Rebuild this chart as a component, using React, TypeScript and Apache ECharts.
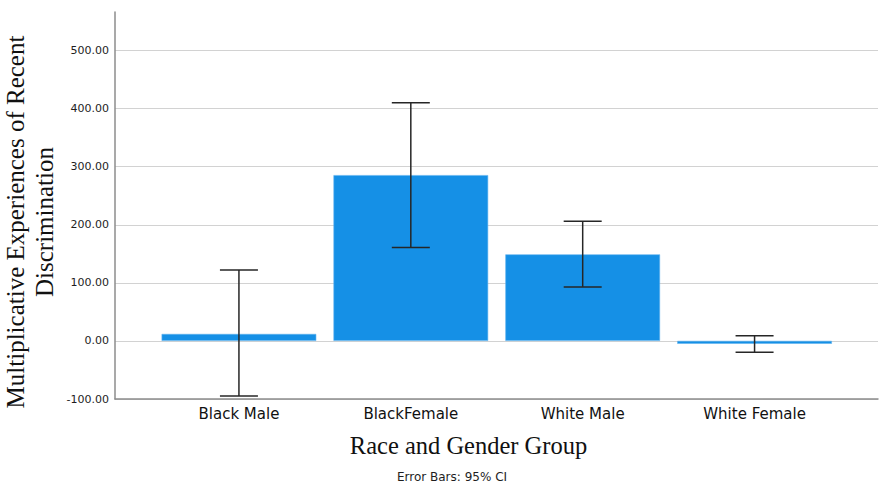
import React, { useEffect, useRef } from "react";
import * as echarts from "echarts";

const categories = ["Black Male", "BlackFemale", "White Male", "White Female"];
const means = [12, 285.5, 149, -5];
const ciLow = [-95, 161, 93, -19.5];
const ciHigh = [122, 410, 206, 9];
const yTicks = [-100, 0, 100, 200, 300, 400, 500];

const Y_MIN = -100;
const Y_MAX = 566.3;

export default function App() {
  const ref = useRef<HTMLDivElement>(null);
  useEffect(() => {
    const chart = echarts.init(ref.current!, undefined, { renderer: "svg" });
    const errData = categories.map((_, i) => [i, ciLow[i], ciHigh[i]]);
    chart.setOption({
      animation: false,
      backgroundColor: "#ffffff",
      grid: [
        { left: 115, right: 4, top: 12, bottom: 87 },
        { left: 153, right: 41.5, top: 12, bottom: 87 },
      ],
      xAxis: [
        {
          gridIndex: 0,
          type: "category",
          data: categories,
          axisLine: { show: true, onZero: false, lineStyle: { color: "#8c8c8c", width: 1.5 } },
          axisTick: { show: false },
          axisLabel: { show: false },
          splitLine: { show: false },
        },
        {
          gridIndex: 1,
          type: "category",
          data: categories,
          axisLine: { show: false, onZero: false },
          axisTick: { show: false },
          axisLabel: {
            show: true,
            margin: 7,
            fontFamily: "DejaVu Sans",
            fontSize: 15,
            color: "#111111",
          },
        },
      ],
      yAxis: [
        {
          gridIndex: 0,
          type: "value",
          min: Y_MIN,
          max: Y_MAX,
          interval: 100,
          axisLine: { show: true, lineStyle: { color: "#8c8c8c", width: 1.5 } },
          axisTick: { show: false },
          axisLabel: {
            showMaxLabel: false,
            margin: 6,
            fontFamily: "DejaVu Sans",
            fontSize: 11,
            color: "#1e1e1e",
            formatter: (v: number) => (yTicks.indexOf(v) >= 0 ? v.toFixed(2) : ""),
          },
          splitLine: {
            show: true,
            showMaxLine: false,
            lineStyle: { color: "#d2d2d2", width: 1.2 },
          },
        },
        {
          gridIndex: 1,
          type: "value",
          min: Y_MIN,
          max: Y_MAX,
          interval: 100,
          show: false,
          splitLine: { show: false },
        },
      ],
      series: [
        {
          type: "bar",
          xAxisIndex: 1,
          yAxisIndex: 1,
          data: means,
          barCategoryGap: "10%",
          itemStyle: { color: "#1590e6", borderColor: "#5fb2ef", borderWidth: 0.6 },
          z: 2,
        },
        {
          type: "custom",
          xAxisIndex: 1,
          yAxisIndex: 1,
          data: errData,
          z: 3,
          renderItem: (params: any, api: any) => {
            const i = api.value(0);
            const lo = api.coord([i, api.value(1)]);
            const hi = api.coord([i, api.value(2)]);
            const hw = 19;
            const style = { stroke: "#262626", lineWidth: 1.5 };
            return {
              type: "group",
              children: [
                { type: "line", shape: { x1: lo[0], y1: lo[1], x2: hi[0], y2: hi[1] }, style },
                { type: "line", shape: { x1: hi[0] - hw, y1: hi[1], x2: hi[0] + hw, y2: hi[1] }, style },
                { type: "line", shape: { x1: lo[0] - hw, y1: lo[1], x2: lo[0] + hw, y2: lo[1] }, style },
              ],
            };
          },
        },
      ],
      graphic: [
        {
          type: "text",
          x: 29.5,
          y: 222,
          rotation: Math.PI / 2,
          style: {
            text: "Multiplicative Experiences of Recent\nDiscrimination",
            font: "25px 'Liberation Serif'",
            fill: "#111111",
            align: "center",
            verticalAlign: "middle",
            lineHeight: 29,
          },
        },
        {
          type: "text",
          x: 468.5,
          y: 445,
          style: {
            text: "Race and Gender Group",
            font: "24.5px 'Liberation Serif'",
            fill: "#111111",
            align: "center",
            verticalAlign: "middle",
          },
        },
        {
          type: "text",
          x: 452,
          y: 477,
          style: {
            text: "Error Bars: 95% CI",
            font: "12px 'DejaVu Sans'",
            fill: "#1e1e1e",
            align: "center",
            verticalAlign: "middle",
          },
        },
      ],
    });
    return () => chart.dispose();
  }, []);
  return <div ref={ref} style={{ width: 882, height: 486, position: "absolute", left: 0, top: 0 }} />;
}
